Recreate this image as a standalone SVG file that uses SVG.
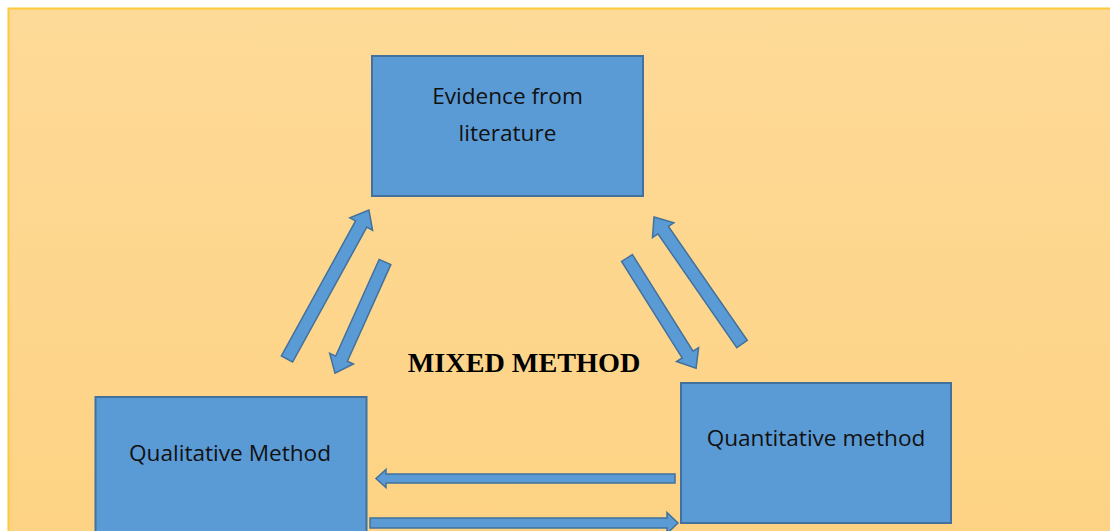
<svg xmlns="http://www.w3.org/2000/svg" width="1110" height="531" viewBox="0 0 1110 531">
<defs>
<linearGradient id="bg" x1="0" y1="0" x2="0" y2="1">
<stop offset="0" stop-color="#FEDA98"/>
<stop offset="1" stop-color="#FDD283"/>
</linearGradient>
<style>
.box{fill:#5B9BD5;stroke:#41719C;stroke-width:2}
.arr{fill:#5B9BD5;stroke:#41719C;stroke-width:1.5;stroke-linejoin:miter}
.lbl{font-family:"Open Sans","Liberation Sans",sans-serif;font-size:22.6px;fill:#111;text-anchor:middle}
.title{font-family:"Liberation Serif",serif;font-size:28.2px;font-weight:bold;fill:#000;text-anchor:middle}
</style>
</defs>
<rect width="1110" height="531" fill="#ffffff"/>
<rect x="8.5" y="8.5" width="1110" height="540" fill="url(#bg)" stroke="#FFC83D" stroke-width="2"/>
<g id="connectors">
<polygon class="arr" transform="translate(287,359) rotate(-61.2)" points="0,-6.4 154,-6.4 154,-13 170,0 154,13 154,6.4 0,6.4"/>
<polygon class="arr" transform="translate(385,262) rotate(114.2)" points="0,-6.4 106,-6.4 106,-13 122,0 106,13 106,6.4 0,6.4"/>
<polygon class="arr" transform="translate(627,258) rotate(57.9)" points="0,-6.4 114,-6.4 114,-13 130,0 114,13 114,6.4 0,6.4"/>
<polygon class="arr" transform="translate(742,344) rotate(-124.7)" points="0,-6.4 138.5,-6.4 138.5,-13 154.5,0 138.5,13 138.5,6.4 0,6.4"/>
<polygon class="arr" transform="translate(675,478.5) rotate(180)" points="0,-4.5 289,-4.5 289,-9 299,0 289,9 289,4.5 0,4.5"/>
<polygon class="arr" transform="translate(370,523)" points="0,-5 297,-5 297,-10.5 308,0 297,10.5 297,5 0,5"/>
</g>
<g id="node-evidence">
<rect class="box" x="372" y="56" width="271" height="140"/>
<text class="lbl" x="507.5" y="104">Evidence from</text>
<text class="lbl" x="507.5" y="141">literature</text>
</g>
<g id="node-qualitative">
<rect class="box" x="95.5" y="397" width="271" height="150"/>
<text class="lbl" x="230" y="461">Qualitative Method</text>
</g>
<g id="node-quantitative">
<rect class="box" x="681" y="383" width="270" height="140"/>
<text class="lbl" x="816" y="446">Quantitative method</text>
</g>
<g id="title">
<text class="title" x="524" y="372">MIXED METHOD</text>
</g>
</svg>
